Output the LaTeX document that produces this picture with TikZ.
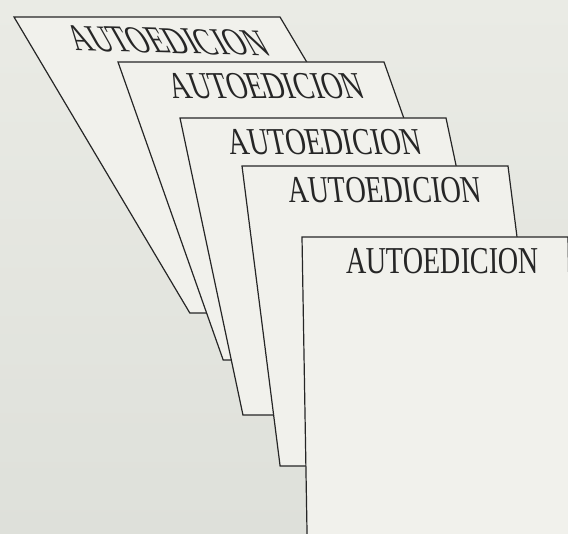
\documentclass[tikz,border=0pt]{standalone}
\usepackage{fontspec}
\setmainfont{Liberation Serif}
\usetikzlibrary{positioning}

\definecolor{papel}{RGB}{234,235,229}
\definecolor{papelbajo}{RGB}{222,224,218}
\definecolor{hojafondo}{RGB}{241,241,236}

\begin{document}
\begin{tikzpicture}[x=1pt,y=-1pt,
  hoja/.style={draw=black!85, line width=1.2pt, fill=hojafondo, line join=miter},
  rotulo/.style={font=\fontsize{38}{40}\selectfont, xscale=0.74, inner sep=0pt, text=black!85}]
  \useasboundingbox (0,0) rectangle (568,534);
  \shade[top color=papel, bottom color=papelbajo] (0,0) rectangle (568,534);
  \clip (0,0) rectangle (568,534);
  % pages, back to front: number / top-left x / top-left y / slant / height / text angle
  \foreach \i/\x/\y/\s/\h/\a in {1/14/17/0.594/296/-1.5, 2/118/62/0.353/298/0, 3/180/118/0.212/297/0,
      4/242/166/0.127/300/0, 5/302/237/0.017/300/0} {
    \draw[hoja] (\x,\y) -- ++(266,0) -- ++(\s*\h,\h) -- ++(-266,0) -- cycle;
    \begin{scope}[shift={(\x+140+\s*23,\y+24)}, xslant=-\s, rotate=\a]
      \node[rotulo, transform shape] (rot\i) at (0,0) {AUTOEDICION};
    \end{scope}
  }
\end{tikzpicture}
\end{document}
